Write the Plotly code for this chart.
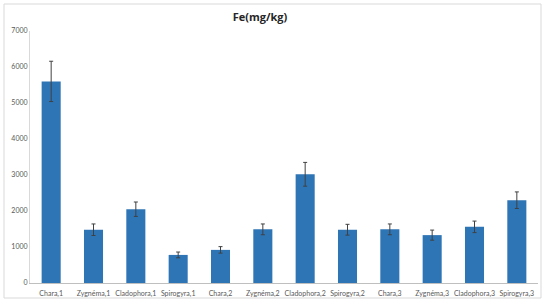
import plotly.graph_objects as go

# Fe content per sample
samples = ['Chara,1', 'Zygnéma,1', 'Cladophora,1', 'Spirogyra,1',
           'Chara,2', 'Zygnéma,2', 'Cladophora,2', 'Spirogyra,2',
           'Chara,3', 'Zygnéma,3', 'Cladophora,3', 'Spirogyra,3']
fe_values = [5600, 1480, 2050, 780, 920, 1490, 3020, 1480, 1490, 1330, 1560, 2300]
fe_errors = [560, 160, 200, 80, 90, 150, 330, 150, 150, 140, 160, 230]

W, H = 550, 304
L, R, T, B = 30, 12, 31, 21
pw, ph = W - L - R, H - T - B


def px_x(p):
    return (p - L) / pw


def px_y(p):
    return (H - B - p) / ph


fig = go.Figure(go.Bar(
    x=samples,
    y=fe_values,
    marker=dict(color='#2E75B6', line=dict(width=0)),
    error_y=dict(type='data', array=fe_errors, color='#404040',
                 thickness=1, width=2),
))

fig.update_layout(
    width=W, height=H,
    margin=dict(l=L, r=R, t=T, b=B),
    paper_bgcolor='white', plot_bgcolor='white',
    bargap=0.55,
    showlegend=False,
    font=dict(family='Lato, Open Sans, sans-serif', color='#595959', size=7),
    title=dict(text='<b>Fe(mg/kg)</b>', x=260 / W, xanchor='center',
               y=1 - 17 / H, yanchor='middle',
               font=dict(size=11, color='#262626',
                         family='Open Sans, sans-serif')),
    shapes=[dict(type='rect', xref='paper', yref='paper',
                 x0=px_x(4), x1=px_x(541), y0=px_y(298), y1=px_y(4),
                 line=dict(color='#D9D9D9', width=1), layer='below')],
)

fig.update_xaxes(showline=True, linecolor='#BFBFBF', linewidth=1,
                 ticks='', showgrid=False, tickangle=0, automargin=False,
                 tickfont=dict(size=7), ticklabelstandoff=4)
fig.update_yaxes(range=[0, 7000], dtick=1000, showline=True,
                 linecolor='#D9D9D9', linewidth=1, showgrid=False,
                 automargin=False, zeroline=False, ticks='',
                 tickfont=dict(size=7))

# drop the default page margin so the figure sits at the window origin
fig.write_html('out.html', config={'displayModeBar': False},
               post_script="document.body.style.margin='0';")
